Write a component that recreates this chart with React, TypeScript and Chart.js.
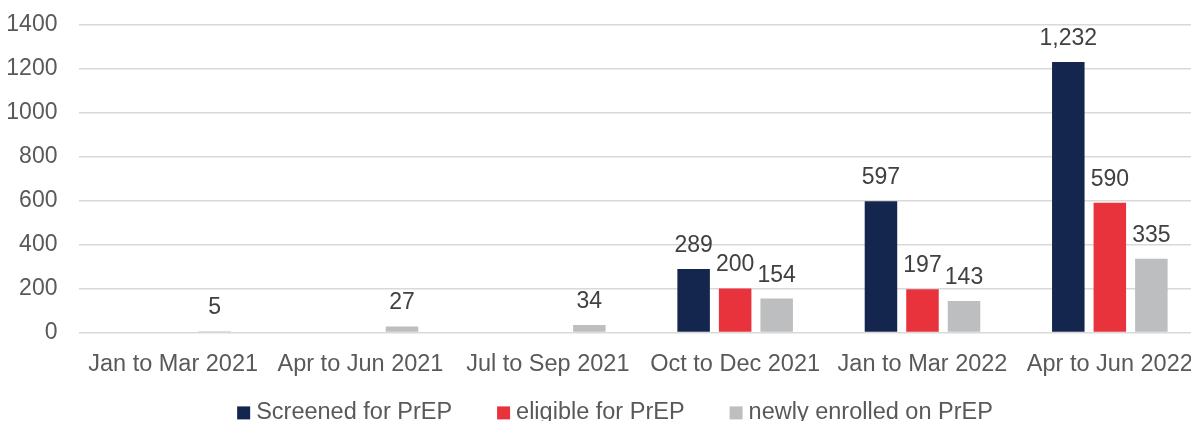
import { useEffect, useRef } from "react";
import { Chart, registerables } from "chart.js";

Chart.register(...registerables);

const categories = [
  "Jan to Mar 2021",
  "Apr to Jun 2021",
  "Jul to Sep 2021",
  "Oct to Dec 2021",
  "Jan to Mar 2022",
  "Apr to Jun 2022",
];
const screened = [null, null, null, 289, 597, 1232];
const eligible = [null, null, null, 200, 197, 590];
const enrolled = [5, 27, 34, 154, 143, 335];
const seriesNames = ["Screened for PrEP", "eligible for PrEP", "newly enrolled on PrEP"];
const seriesColors = ["#14264D", "#E8333C", "#BDBEC0"];
const yMin = 0;
const yMax = 1400;
const yStep = 200;

const FAMILY = '"Liberation Sans", Arial, sans-serif';
const LABEL_FONT = `23px ${FAMILY}`;
const LEGEND_FONT = `23.5px ${FAMILY}`;

const dataLabelPlugin = {
  id: "dataLabels",
  afterDatasetsDraw(chart: any) {
    const ctx = chart.ctx;
    ctx.save();
    ctx.font = LABEL_FONT;
    ctx.fillStyle = "#404040";
    ctx.textAlign = "center";
    ctx.textBaseline = "alphabetic";
    chart.data.datasets.forEach((ds: any, i: number) => {
      const meta = chart.getDatasetMeta(i);
      meta.data.forEach((el: any, j: number) => {
        const v = ds.data[j];
        if (v == null) return;
        ctx.fillText(Number(v).toLocaleString("en-US"), el.x, el.y - 17);
      });
    });
    ctx.restore();
  },
};

const legendPlugin = {
  id: "customLegend",
  afterDraw(chart: any) {
    const ctx = chart.ctx;
    ctx.save();
    ctx.font = LEGEND_FONT;
    const box = 13;
    const boxGap = 6;
    const itemGap = 45;
    const items = chart.data.datasets.map((ds: any) => ({
      label: ds.label,
      color: ds.backgroundColor,
      w: ctx.measureText(ds.label).width,
    }));
    const total =
      items.reduce((s: number, it: any) => s + box + boxGap + it.w, 0) +
      itemGap * (items.length - 1);
    let x = chart.width / 2 - total / 2;
    const base = chart.chartArea.bottom;
    items.forEach((it: any) => {
      ctx.fillStyle = it.color;
      ctx.fillRect(x, base + 74, box, box);
      ctx.fillStyle = "#595959";
      ctx.textAlign = "left";
      ctx.textBaseline = "alphabetic";
      ctx.fillText(it.label, x + box + boxGap, base + 87);
      x += box + boxGap + it.w + itemGap;
    });
    ctx.restore();
  },
};

export default function App() {
  const ref = useRef<HTMLCanvasElement | null>(null);

  useEffect(() => {
    if (!ref.current) return;
    const data = [screened, eligible, enrolled];
    const chart = new Chart(ref.current, {
      type: "bar",
      data: {
        labels: categories,
        datasets: data.map((d, i) => ({
          label: seriesNames[i],
          data: d,
          backgroundColor: seriesColors[i],
          borderWidth: 0,
          categoryPercentage: 0.665,
          barPercentage: 0.783,
        })),
      },
      options: {
        animation: false,
        responsive: true,
        maintainAspectRatio: false,
        layout: { padding: { left: 6.3, right: 26.5, top: 25, bottom: 51.4 } },
        plugins: {
          legend: { display: false },
          tooltip: { enabled: false },
        },
        scales: {
          x: {
            grid: {
              display: true,
              drawOnChartArea: false,
              drawTicks: true,
              tickLength: 18,
              tickColor: "rgba(0,0,0,0)",
            },
            border: { display: false },
            ticks: {
              color: "#595959",
              font: { family: FAMILY, size: 23.5 },
              padding: 0,
              maxRotation: 0,
              autoSkip: false,
            },
          },
          y: {
            min: yMin,
            max: yMax,
            grid: {
              color: "#D9D9D9",
              lineWidth: 1.5,
              drawTicks: true,
              tickLength: 22,
              tickColor: "rgba(0,0,0,0)",
            },
            border: { display: false },
            ticks: {
              stepSize: yStep,
              color: "#595959",
              font: { family: FAMILY, size: 23 },
              padding: 0,
              callback: (v: any) => String(v),
            },
          },
        },
      },
      plugins: [dataLabelPlugin, legendPlugin],
    });
    return () => chart.destroy();
  }, []);

  return (
    <div
      style={{
        position: "fixed",
        left: 0,
        top: 0,
        width: 1191,
        height: 421,
        overflow: "hidden",
        background: "#ffffff",
      }}
    >
      <div style={{ position: "relative", width: 1230, height: 430 }}>
        <canvas ref={ref} />
      </div>
    </div>
  );
}
